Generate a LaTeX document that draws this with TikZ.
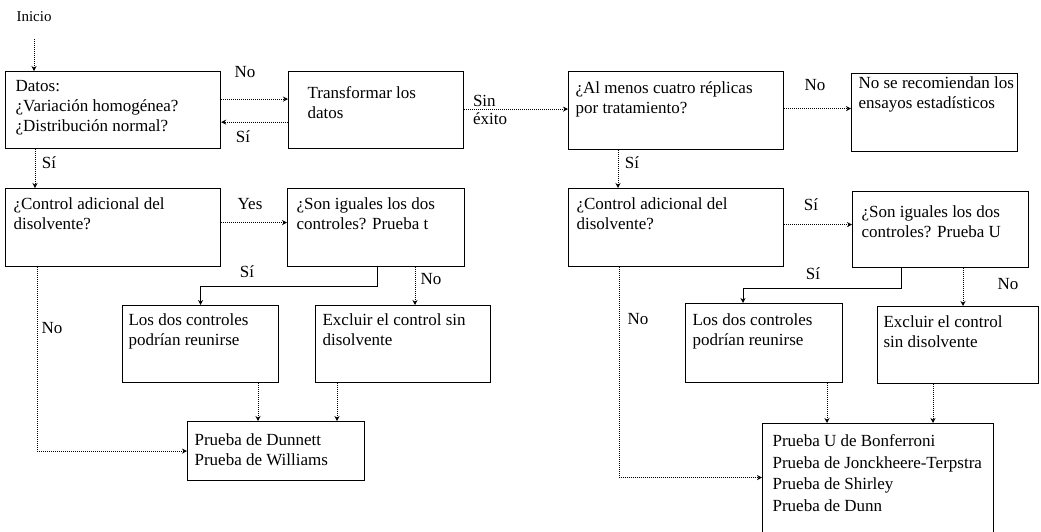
\documentclass[tikz,border=0pt]{standalone}
\usepackage{fontspec}
\setmainfont{Liberation Serif}
\usetikzlibrary{arrows.meta}

% text block inside a box: width, height, left pad, first baseline, text
\newcommand{\boxtxt}[5]{%
  \parbox[c][#2pt][t]{#1pt}{\raggedright\leftskip=#3pt\relax\rule{0pt}{#4pt}#5}}

\begin{document}
\begin{tikzpicture}[x=1pt,y=-1pt,
    box/.style={draw, line width=1.2pt, anchor=north west, inner sep=0pt,
      font=\fontsize{17}{20}\selectfont},
    lbl/.style={inner sep=1pt, font=\fontsize{17}{18}\selectfont},
    lnk/.style={densely dotted, line width=1pt, -{Stealth[length=5pt,width=5pt]}},
    lnks/.style={line width=1pt, -{Stealth[length=5pt,width=5pt]}}]
  \useasboundingbox (0,0) rectangle (1041,531);

  % boxes
  \node[box] (datos) at (5,71) {\boxtxt{215}{77}{10}{20}{Datos:\\¿Variación homogénea?\\¿Distribución normal?}};
  \node[box] (transf) at (288,71) {\boxtxt{175}{77}{19}{27}{Transformar los\\datos}};
  \node[box] (almenos) at (568,71) {\boxtxt{215}{78}{7}{22}{¿Al menos cuatro réplicas\\por tratamiento?}};
  \node[box] (norec) at (851,73) {\boxtxt{166}{78}{7}{15}{No se recomiendan los\\ensayos estadísticos}};
  \node[box] (ctrlL) at (5,188) {\boxtxt{215}{78}{8}{21}{¿Control adicional del\\disolvente?}};
  \node[box] (sonT) at (287,188) {\boxtxt{177}{78}{9}{21}{¿Son iguales los dos\\controles? Prueba t}};
  \node[box] (losL) at (122,305) {\boxtxt{156}{77}{6}{20}{Los dos controles\\podrían reunirse}};
  \node[box] (exclL) at (315,305) {\boxtxt{175}{77}{7}{20}{Excluir el control sin\\disolvente}};
  \node[box] (dunnett) at (187,421) {\boxtxt{177}{59}{7}{24}{Prueba de Dunnett\\Prueba de Williams}};
  \node[box] (ctrlR) at (568,188) {\boxtxt{215}{78}{8}{21}{¿Control adicional del\\disolvente?}};
  \node[box] (sonU) at (852,191) {\boxtxt{176}{76}{9}{26}{¿Son iguales los dos\\controles? Prueba U}};
  \node[box] (losR) at (685,303) {\boxtxt{157}{79}{7}{22}{Los dos controles\\podrían reunirse}};
  \node[box] (exclR) at (877,306) {\boxtxt{161}{77}{6}{21}{Excluir el control\\sin disolvente}};
  \node[box, font=\fontsize{17}{21.5}\selectfont] (bonf) at (762,423) {\boxtxt{231}{112}{10}{23}{Prueba U de Bonferroni\\Prueba de Jonckheere-Terpstra\\Prueba de Shirley\\Prueba de Dunn}};

  % labels
  \node[lbl, font=\fontsize{15}{16}\selectfont] (inicio) at (34,17) {Inicio};
  \node[lbl] (lNo1) at (245,72) {No};
  \node[lbl] (lSi1) at (243,137) {Sí};
  \node[lbl, align=left, font=\fontsize{17}{18}\selectfont] (lSin) at (490,110) {Sin\\éxito};
  \node[lbl] (lNo2) at (815,85) {No};
  \node[lbl] (lSi2) at (49,163) {Sí};
  \node[lbl] (lSi3) at (632,163) {Sí};
  \node[lbl] (lYes) at (250,204) {Yes};
  \node[lbl] (lSi4) at (247,272) {Sí};
  \node[lbl] (lNo3) at (431,279) {No};
  \node[lbl] (lNo4) at (52,328) {No};
  \node[lbl] (lSi5) at (811,205) {Sí};
  \node[lbl] (lSi6) at (813,274) {Sí};
  \node[lbl] (lNo5) at (1008,284) {No};
  \node[lbl] (lNo6) at (638,319) {No};

  % connectors
  \draw[lnk] ([yshift=-16pt]inicio.south) -- (inicio.south |- datos.north);
  \draw[lnk] ([yshift=11pt]datos.east) -- ([yshift=11pt]datos.east -| transf.west);
  \draw[lnk] ([yshift=-12pt]transf.west) -- ([yshift=-12pt]transf.west -| datos.east);
  \draw[lnk] ([yshift=1pt]transf.east) -- ([yshift=1pt]transf.east -| almenos.west);
  \draw[lnk] ([yshift=2pt]almenos.east) -- ([yshift=2pt]almenos.east -| norec.west);
  \draw[lnk] ([xshift=30pt]datos.south west) -- ([xshift=30pt]datos.south west |- ctrlL.north);
  \draw[lnk] ([xshift=50pt]almenos.south west) -- ([xshift=50pt]almenos.south west |- ctrlR.north);

  \draw[lnk] ([yshift=5pt]ctrlL.east) -- ([yshift=5pt]ctrlL.east -| sonT.west);
  \draw[lnks] ([xshift=90pt]sonT.south west) -- ++(0,19) -| (losL.north);
  \draw[lnk] ([xshift=128pt]sonT.south west) -- ([xshift=128pt]sonT.south west |- exclL.north);
  \draw[lnk] ([xshift=32pt]ctrlL.south west) |- (dunnett.west);
  \draw[lnk] ([xshift=136pt]losL.south west) -- ([xshift=136pt]losL.south west |- dunnett.north);
  \draw[lnk] ([xshift=22pt]exclL.south west) -- ([xshift=22pt]exclL.south west |- dunnett.north);

  \draw[lnk] ([yshift=3pt]ctrlR.east) -- ([yshift=3pt]ctrlR.east -| sonU.west);
  \draw[lnks] ([xshift=49pt]sonU.south west) -- ++(0,20) -| ([xshift=58pt]losR.north west);
  \draw[lnk] ([xshift=111pt]sonU.south west) -- ([xshift=111pt]sonU.south west |- exclR.north);
  \draw[lnk] ([xshift=51pt]ctrlR.south west) |- ([yshift=2pt]bonf.west);
  \draw[lnk] ([xshift=142pt]losR.south west) -- ([xshift=142pt]losR.south west |- bonf.north);
  \draw[lnk] ([xshift=56pt]exclR.south west) -- ([xshift=56pt]exclR.south west |- bonf.north);
\end{tikzpicture}
\end{document}
